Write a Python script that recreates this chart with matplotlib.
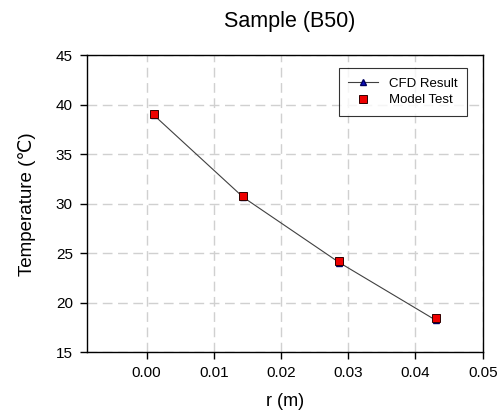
import numpy as np
import matplotlib.pyplot as plt

plt.rcParams['font.family'] = ['Liberation Sans', 'DejaVu Sans']

r_m = [0.0011, 0.0144, 0.0287, 0.0430]
cfd_temp = [38.95, 30.65, 24.05, 18.25]
test_temp = [39.07, 30.79, 24.22, 18.45]
x_ticks = [0.00, 0.01, 0.02, 0.03, 0.04, 0.05]
y_ticks = [15, 20, 25, 30, 35, 40, 45]

fig = plt.figure(figsize=(5.01, 4.12), dpi=100)
ax = fig.add_axes([86.7 / 501, 1 - 352.3 / 412, (482.7 - 86.7) / 501, (352.3 - 55.3) / 412])

ax.plot(r_m, cfd_temp, color='#404040', lw=0.8, marker='^', ms=5,
        mfc='#1010c0', mec='#000060', label='CFD Result', zorder=3)
ax.plot(r_m, test_temp, ls='none', marker='s', ms=6, mfc='#ee0000',
        mec='#300000', mew=0.7, label='Model Test', zorder=4)

ax.set_xlim(-0.0089, 0.05)
ax.set_ylim(15, 45)
ax.set_xticks(x_ticks)
ax.set_yticks(y_ticks)
ax.set_xticklabels([f'{v:.2f}' for v in x_ticks])
ax.tick_params(direction='out', length=5, width=1, labelsize=11, colors='black', pad=5)
ax.grid(True, color='#d0d0d0', ls=(0, (7, 4)), lw=1)
for s in ax.spines.values():
    s.set_linewidth(1)

ax.set_xlabel('r (m)', fontsize=13, labelpad=9)
ax.set_ylabel('Temperature (℃)', fontsize=13.5, labelpad=14)
fig.text(0.578, 0.948, 'Sample (B50)', ha='center', va='center', fontsize=15.5)

leg = ax.legend(loc='upper right', bbox_to_anchor=(0.96, 0.957), borderaxespad=0,
                fontsize=9.5, frameon=True, fancybox=False, edgecolor='black',
                handlelength=2.3, borderpad=0.7, labelspacing=0.35)
leg.get_frame().set_linewidth(0.8)

fig.savefig('out.png', dpi=100)
